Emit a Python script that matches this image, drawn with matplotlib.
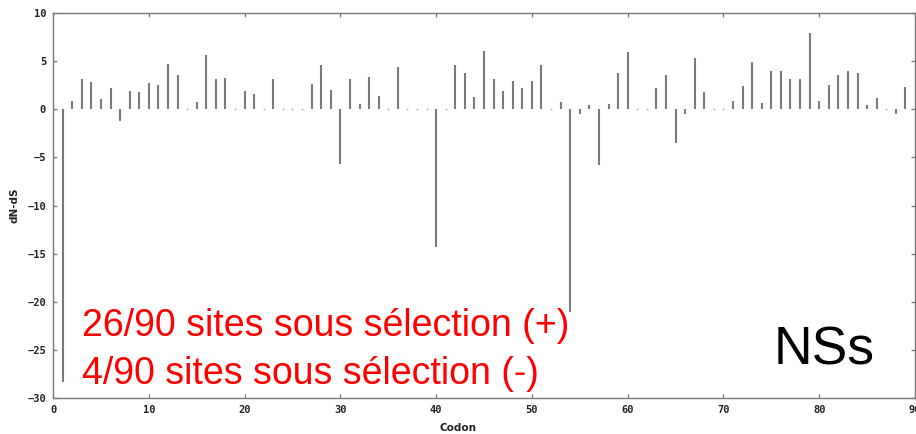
import numpy as np
import matplotlib
matplotlib.use("Agg")
import matplotlib.pyplot as plt

# dN-dS per codon (1..89)
codon = np.arange(1, 90)
dnds = [
    -28.3, 0.85, 3.15, 2.85, 1.05, 2.25, -1.25, 1.9, 1.75, 2.75,
    2.5, 4.75, 3.6, 0.0, 0.8, 5.6, 3.1, 3.3, 0.0, 1.9,
    1.6, 0.0, 3.1, 0.0, 0.0, 0.0, 2.6, 4.65, 2.05, -5.65,
    3.1, 0.6, 3.4, 1.4, 0.0, 4.35, 0.0, 0.0, 0.0, -14.35,
    0.0, 4.6, 3.8, 1.25, 6.05, 3.1, 1.85, 2.95, 2.2, 2.95,
    4.65, 0.0, 0.8, -21.1, -0.45, 0.45, -5.75, 0.6, 3.8, 5.95,
    0.0, 0.0, 2.2, 3.6, -3.45, -0.45, 5.3, 1.75, 0.0, 0.0,
    0.85, 2.45, 4.9, 0.7, 4.0, 4.0, 3.1, 3.2, 7.95, 0.9,
    2.55, 3.6, 4.0, 3.8, 0.4, 1.15, 0.0, -0.45, 2.3,
]
dnds = np.array(dnds)

xticks = np.arange(0, 91, 10)
yticks = np.arange(-30, 11, 5)

fig = plt.figure(figsize=(9.16, 4.34), dpi=100)
ax = fig.add_axes([0.0579, 0.0829, 0.9410, 0.8870])

ax.vlines(codon, 0, dnds, color="#7a7a7a", linewidth=1.5)
zero = dnds == 0
ax.plot(codon[zero], dnds[zero], ls="none", marker="s", ms=1.2,
        color="#b0b0b0", mec="none")

ax.set_xlim(0, 90)
ax.set_ylim(-30, 10)
ax.set_xticks(xticks)
ax.set_yticks(yticks)
ax.tick_params(direction="in", length=3, width=0.9, color="#777777",
               top=True, right=True, labelsize=7.5, pad=5)
for lab in ax.get_xticklabels() + ax.get_yticklabels():
    lab.set_family("DejaVu Sans Mono")
    lab.set_fontweight("bold")
    lab.set_color("#222222")
for s in ax.spines.values():
    s.set_color("#777777")
    s.set_linewidth(1.0)

ax.set_xlabel("Codon", fontsize=7.5, fontweight="bold", color="#222222",
              labelpad=2)
ax.xaxis.set_label_coords(0.47, -0.065)
ax.set_ylabel("dN-dS", fontsize=7.5, fontweight="bold", color="#222222",
              labelpad=6)

fig.text(0.090, 0.225, "26/90 sites sous sélection (+)", color="red",
         fontsize=27, family="Liberation Sans", ha="left", va="baseline")
fig.text(0.090, 0.115, "4/90 sites sous sélection (-)", color="red",
         fontsize=27, family="Liberation Sans", ha="left", va="baseline")
fig.text(0.845, 0.161, "NSs", color="black", fontsize=38.5,
         family="Liberation Sans", ha="left", va="baseline")

fig.savefig("out.png", dpi=100)
